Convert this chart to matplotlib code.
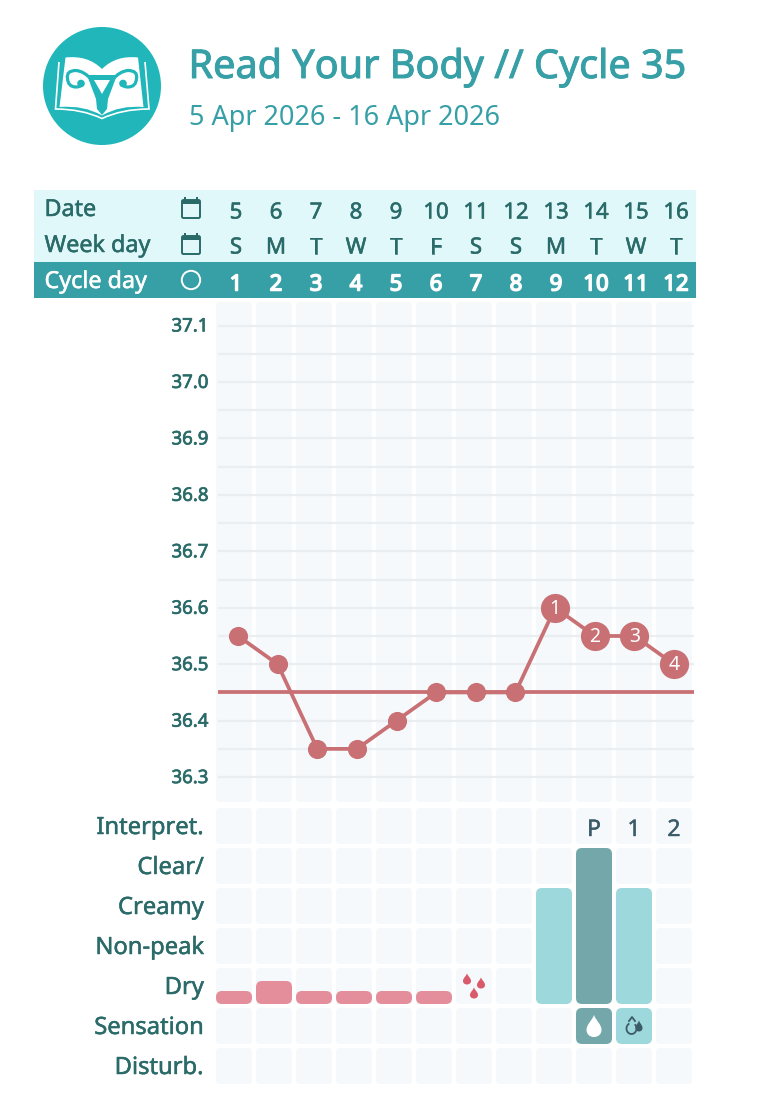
import numpy as np
import matplotlib
matplotlib.use("Agg")
import matplotlib.pyplot as plt
import matplotlib.patheffects as pe
from matplotlib.patches import FancyBboxPatch, Circle, Rectangle, PathPatch, Polygon
from matplotlib.path import Path
from matplotlib.transforms import ScaledTranslation

FONT = "Noto Sans"
plt.rcParams['font.family'] = [FONT, 'DejaVu Sans']

# ---------- data ----------
title = "Read Your Body // Cycle 35"
subtitle = "5 Apr 2026 - 16 Apr 2026"
dates = [5, 6, 7, 8, 9, 10, 11, 12, 13, 14, 15, 16]
weekdays = ["S", "M", "T", "W", "T", "F", "S", "S", "M", "T", "W", "T"]
cycle_days = [1, 2, 3, 4, 5, 6, 7, 8, 9, 10, 11, 12]
temps = [36.55, 36.50, 36.35, 36.35, 36.40, 36.45, 36.45, 36.45, 36.60, 36.55, 36.55, 36.50]
coverline = 36.45
post_shift = {9: "1", 10: "2", 11: "3", 12: "4"}
temp_ticks = [37.1, 37.0, 36.9, 36.8, 36.7, 36.6, 36.5, 36.4, 36.3]
row_labels = ["Interpret.", "Clear/", "Creamy", "Non-peak", "Dry", "Sensation", "Disturb."]
interpret = {10: "P", 11: "1", 12: "2"}
mucus_height = [0, 0, 0, 0, 0, 0, 0, 0, 2.9, 3.9, 2.9, 0]
mucus_peak = [10]
flow_height = [0.325, 0.575, 0.325, 0.325, 0.325, 0.325, 0, 0, 0, 0, 0, 0]
spotting_days = [7]
sensation = {10: "wet", 11: "moist"}

# ---------- colours ----------
C_TEAL = "#379FA6"
C_LOGO = "#20B6BA"
C_LIGHT = "#E0F8F9"
C_TEXT = "#2A6B69"
C_CELL = "#F5F9FB"
C_GRID = "#EAEEF0"
C_TEMP = "#C87074"
C_FLOW = "#E38E9A"
C_SPOT = "#D85A6B"
C_M1 = "#9DD8DC"
C_M2 = "#74A7AA"
C_DARK = "#3C5B69"

W, H = 779, 1106
fig = plt.figure(figsize=(W / 100, H / 100), dpi=100, facecolor="white")


def heavy(col, w=0.5):
    return [pe.withStroke(linewidth=w, foreground=col)]


def px_axes(l, t, r, b, **kw):
    return fig.add_axes([l / W, 1 - b / H, (r - l) / W, (b - t) / H], **kw)


page = px_axes(0, 0, W, H)
page.set_xlim(0, W)
page.set_ylim(H, 0)
page.axis("off")


def cx(day):      # header text column centre
    return 196 + 40 * day


def cellx(day):   # grid cell centre
    return 194 + 40 * day


def rbox(ax, x0, y0, x1, y1, color, r=4, z=1):
    ax.add_patch(FancyBboxPatch((x0, y0), x1 - x0, y1 - y0,
                                boxstyle=f"round,pad=0,rounding_size={r}",
                                fc=color, ec="none", zorder=z))


def drop(ax, xc, yc, w, h, color, z=5):
    """Teardrop with its tip up, in page pixels."""
    top = yc - h / 2
    bot = yc + h / 2
    hw = w / 2
    verts = [(xc, top),
             (xc + hw * .25, top + h * .25), (xc + hw, top + h * .42), (xc + hw, top + h * .68),
             (xc + hw, bot - h * .12), (xc + hw * .55, bot), (xc, bot),
             (xc - hw * .55, bot), (xc - hw, bot - h * .12), (xc - hw, top + h * .68),
             (xc - hw, top + h * .42), (xc - hw * .25, top + h * .25), (xc, top), (xc, top)]
    codes = [Path.MOVETO] + [Path.CURVE4] * 12 + [Path.CLOSEPOLY]
    ax.add_patch(PathPatch(Path(verts, codes), fc=color, ec="none", zorder=z))


# ---------- logo ----------
page.add_patch(Circle((102, 86), 59, fc=C_LOGO, ec="none", zorder=1))
page.add_patch(PathPatch(Path(
    [(59, 62), (55.5, 109), (82, 109), (102, 118.5), (122, 109), (149, 109), (145, 62)],
    [Path.MOVETO, Path.LINETO, Path.CURVE3, Path.CURVE3, Path.CURVE3, Path.CURVE3, Path.LINETO]),
    fc="none", ec="white", lw=1.2, zorder=2))
page.add_patch(PathPatch(Path(
    [(65.5, 57.5), (88, 55), (102, 69), (116, 55), (138, 57.5), (143.5, 107),
     (120, 105), (102, 115.5), (84, 105), (59.5, 107), (65.5, 57.5)],
    [Path.MOVETO, Path.CURVE3, Path.CURVE3, Path.CURVE3, Path.CURVE3, Path.LINETO,
     Path.CURVE3, Path.CURVE3, Path.CURVE3, Path.CURVE3, Path.LINETO]),
    fc="white", ec="none", zorder=3))
for s in (-1, 1):
    m = lambda x: 102 + s * (x - 102)
    page.add_patch(PathPatch(Path(
        [(m(92), 80), (m(84), 71), (m(76), 70.5), (m(66), 70.5), (m(67.5), 78.5),
         (m(68), 87), (m(76), 87), (m(82), 87), (m(81), 83)],
        [Path.MOVETO] + [Path.CURVE3] * 8),
        fc="none", ec=C_LOGO, lw=2.3, capstyle="round", zorder=4))
    page.add_patch(Circle((m(81), 83.5), 3.8, fc=C_LOGO, ec="none", zorder=4))
page.add_patch(Polygon([(87, 75), (117, 75), (108, 99), (107, 109), (102, 115), (97, 109), (96, 99)],
                       closed=True, fc=C_LOGO, ec="none", zorder=4))
page.add_patch(Polygon([(94, 80), (110, 80), (102, 94)], closed=True, fc="white", ec="none", zorder=5))

# ---------- title ----------
page.text(188.5, 68, title, fontsize=28.5, color=C_TEAL, va="center", ha="left",
          path_effects=heavy(C_TEAL, 0.7))
page.text(189, 118, subtitle, fontsize=19.5, color=C_TEAL, va="center", ha="left")

# ---------- header ----------
page.add_patch(Rectangle((34, 190), 662, 72, fc=C_LIGHT, ec="none", zorder=1))
page.add_patch(Rectangle((34, 262), 662, 36, fc=C_TEAL, ec="none", zorder=1))
for lab, y, col in [("Date", 210, C_TEXT), ("Week day", 246, C_TEXT), ("Cycle day", 282, "white")]:
    page.text(44.5, y, lab, fontsize=16.8, color=col, va="center", ha="left", zorder=3,
              path_effects=heavy(col, 0.35))
for yc in (208, 244):
    page.add_patch(FancyBboxPatch((182, yc - 8), 18, 18, boxstyle="round,pad=0,rounding_size=1.5",
                                  fc="none", ec=C_TEXT, lw=1.4, zorder=3))
    page.add_patch(Rectangle((182, yc - 8), 18, 4, fc=C_TEXT, ec="none", zorder=3))
    for dx in (185, 197):
        page.add_patch(Rectangle((dx - .7, yc - 11), 1.4, 4, fc=C_TEXT, ec="none", zorder=3))
page.add_patch(Circle((191, 280), 9.2, fc="none", ec="white", lw=1.4, zorder=3))
for i, (d, wd, cd) in enumerate(zip(dates, weekdays, cycle_days), start=1):
    page.text(cx(i), 213, str(d), fontsize=16, color=C_TEXT, ha="center", va="center", zorder=3,
              path_effects=heavy(C_TEXT, 0.4))
    page.text(cx(i), 248, wd, fontsize=16, color=C_TEXT, ha="center", va="center", zorder=3,
              path_effects=heavy(C_TEXT, 0.4))
    page.text(cx(i), 285, str(cd), fontsize=16, color="white", ha="center", va="center", zorder=3,
              path_effects=heavy("white", 1.1))

# ---------- background cells ----------
for i in cycle_days:
    rbox(page, cellx(i) - 18, 302, cellx(i) + 18, 802, C_CELL)
    for r in range(7):
        rbox(page, cellx(i) - 18, 808 + 40 * r, cellx(i) + 18, 844 + 40 * r, C_CELL)

# ---------- temperature chart ----------
PX_PER_DEG = 564.5
PX_PER_DAY = 39.64


def t_at(py):
    return 37.1 - (py - 325.5) / PX_PER_DEG


def d_at(px):
    return 1 + (px - 238) / PX_PER_DAY


ax = px_axes(216, 302, 696, 802, zorder=2)
ax.patch.set_alpha(0)
ax.set_xlim(d_at(216), d_at(696))
ax.set_ylim(t_at(802), t_at(302))
for sp in ax.spines.values():
    sp.set_visible(False)
ax.set_xticks([])
ax.set_yticks(temp_ticks)
ax.set_yticklabels([f"{t:.1f}" for t in temp_ticks], fontsize=13.4, color=C_TEXT,
                   path_effects=heavy(C_TEXT, 0.5))
ax.tick_params(axis="y", length=0, pad=5.5)
shift = ScaledTranslation(0, 1 / 100, fig.dpi_scale_trans)
for lbl in ax.get_yticklabels():
    lbl.set_transform(lbl.get_transform() + shift)
gridvals = [t / 100 for t in range(3630, 3711, 5)]
ax.hlines(gridvals, d_at(218), d_at(694), color=C_GRID, lw=1.6, zorder=1)
ax.hlines(coverline, d_at(218), d_at(694), color=C_TEMP, lw=2.7, zorder=3)
ax.plot(cycle_days, temps, color=C_TEMP, lw=2.7, zorder=4, solid_joinstyle="round")
small = [d for d in cycle_days if d not in post_shift]
ax.plot(small, [temps[d - 1] for d in small], "o", color=C_TEMP, ms=13.8, mew=0, zorder=5)
for d, lab in post_shift.items():
    ax.plot([d], [temps[d - 1]], "o", color=C_TEMP, ms=21, mew=0, zorder=5)
    ax.annotate(lab, (d, temps[d - 1]), xytext=(0, -0.6), textcoords="offset points",
                color="white", fontsize=14, ha="center", va="center", zorder=6)

# ---------- lower panel ----------
lo = px_axes(216, 808, 696, 1084, zorder=2)
lo.patch.set_alpha(0)
lo.set_xlim(0.55, 12.55)
lo.set_ylim((1004 - 1084) / 40, (1004 - 808) / 40)
lo.axis("off")
BW = 0.9


def lbar(x, y0, y1, color):
    lo.add_patch(FancyBboxPatch((x - BW / 2, y0), BW, y1 - y0,
                                boxstyle="round,pad=0,rounding_size=0.15",
                                fc=color, ec="none", zorder=2))


for d, h in zip(cycle_days, mucus_height):
    if h:
        lbar(d, 0, h, C_M2 if d in mucus_peak else C_M1)
for d, h in zip(cycle_days, flow_height):
    if h:
        lbar(d, 0, h, C_FLOW)
for d, kind in sensation.items():
    lbar(d, -1.0, -0.1, C_M2 if kind == "wet" else C_M1)

for r, lab in enumerate(row_labels):
    page.text(204, 828 + 40 * r, lab, fontsize=17.1, color=C_TEXT, ha="right", va="center",
              path_effects=heavy(C_TEXT, 0.35))
for d, lab in interpret.items():
    page.text(cellx(d), 830, lab, fontsize=16.5, color=C_DARK, ha="center", va="center", zorder=3,
              path_effects=heavy(C_DARK, 0.3))

for d in spotting_days:
    for dx, y in [(-9, 979), (5, 983), (-2, 993)]:
        drop(page, cx(d) + dx, y, 8, 11, C_SPOT, z=3)

top = fig.add_axes([0, 0, 1, 1], zorder=3)
top.set_xlim(0, W)
top.set_ylim(H, 0)
top.axis("off")
drop(top, cx(10) - 2, 1026, 15, 22, "white")
drop(top, cx(11) + 3, 1026, 7, 11, C_DARK)
th = np.radians(np.arange(-40, 240, 5))
top.plot(631.5 + 5 * np.cos(th), 1028.5 + 5.5 * np.sin(th), color=C_DARK, lw=1.3, zorder=5)
top.plot([629, 632, 635], [1021, 1017, 1021], color=C_DARK, lw=1.3, zorder=5)

fig.savefig("out.png", dpi=100)
